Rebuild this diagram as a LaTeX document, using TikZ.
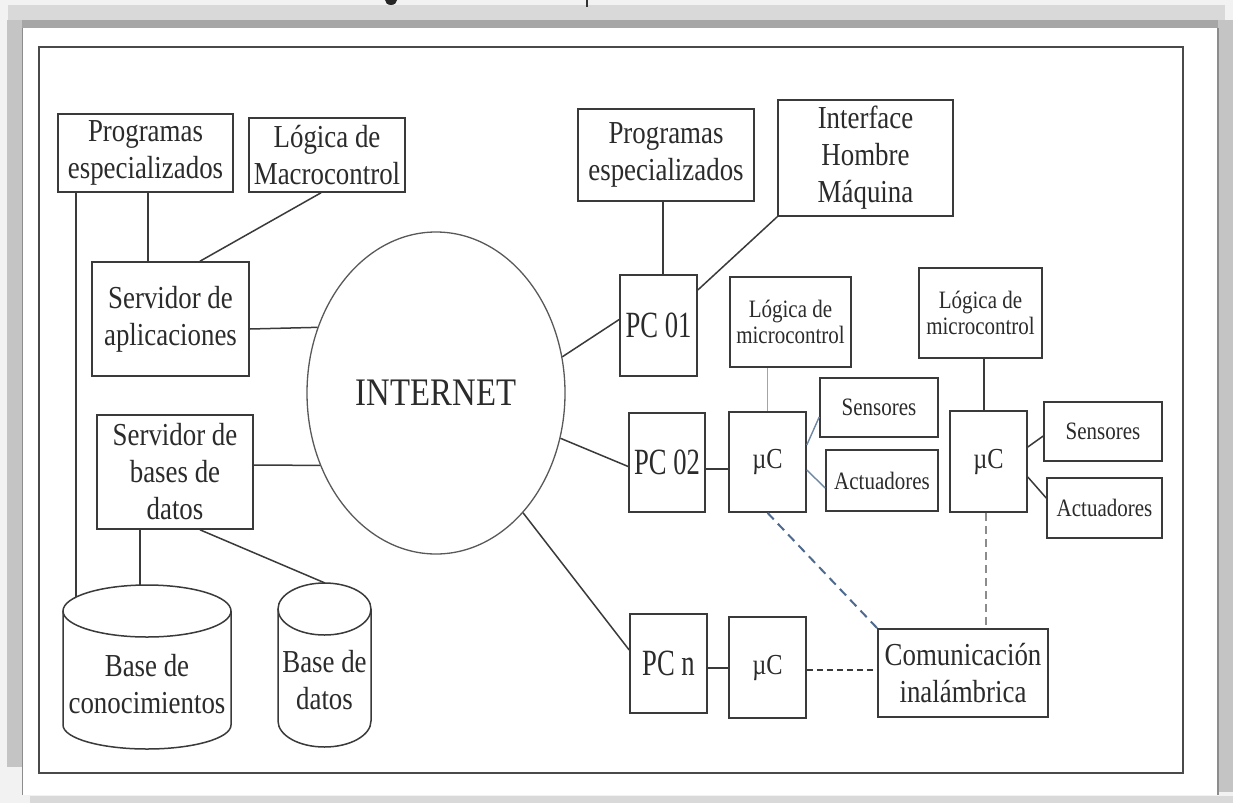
\documentclass[tikz,border=0pt]{standalone}
\usepackage{fontspec}
\setmainfont{Liberation Serif}[FakeStretch=0.84]
\newfontfamily\pcfont{Liberation Serif}[FakeStretch=0.72]
\usetikzlibrary{shapes.geometric,calc}

\definecolor{ink}{HTML}{2B2B2B}
\definecolor{edge}{HTML}{3A3A3A}
\definecolor{framec}{HTML}{4A4A4A}
\definecolor{bluish}{HTML}{6F87A3}
\definecolor{bluishlight}{HTML}{93A7BD}
\definecolor{bluedash}{HTML}{4F6A8F}
\definecolor{pagebg}{HTML}{F2F2F2}
\definecolor{bandlight}{HTML}{D9D9D9}
\definecolor{banddark}{HTML}{A6A6A6}
\definecolor{bandside}{HTML}{C4C4C4}

\begin{document}
\begin{tikzpicture}[x=1pt,y=-1pt,
  box/.style={draw=edge, line width=1.6pt, rectangle, inner sep=0pt,
              align=center, text=ink, font=\fontsize{32}{37}\selectfont},
  smallbox/.style={box, font=\fontsize{25}{26}\selectfont},
  pcbox/.style={box, font=\pcfont\fontsize{37}{40}\selectfont},
  ucbox/.style={box, font=\fontsize{29}{32}\selectfont},
  cyl/.style={draw=edge, line width=1.5pt},
  cyltext/.style={align=center, text=ink, inner sep=0pt,
                  font=\fontsize{32}{37}\selectfont},
  link/.style={draw=edge, line width=1.5pt},
  bluelink/.style={draw=bluish, line width=1.4pt},
  wireless/.style={draw=bluedash, line width=2pt, dash pattern=on 9pt off 6pt},
  wirelessgray/.style={draw=black!45, line width=2pt, dash pattern=on 8pt off 5pt},
  wirelessdark/.style={draw=edge, line width=1.5pt, dash pattern=on 6pt off 4pt}
]
\useasboundingbox (0,0) rectangle (1233,803);

% page background, bands and white panel
\fill[pagebg] (0,0) rectangle (1233,803);
\fill[bandlight] (8,5) rectangle (1225,20);
\fill[banddark] (16,20) rectangle (1218,28);
\fill[bandside] (7,20) rectangle (22,767);
\fill[bandside] (1218,20) rectangle (1233,792);
\fill[white] (22,28) rectangle (1218,795);
\draw[black!45, line width=1pt] (22,28) -- (22,795);
\draw[black!45, line width=1.5pt] (1218,28) -- (1218,795);
\fill[bandlight] (30,796) rectangle (1233,803);

% descenders of the heading above
\fill[black!85] (391,0) ellipse [x radius=6pt, y radius=5pt];
\draw[black!80, line width=1.2pt] (587,0) -- (587,7);

% inner frame
\draw[framec, line width=1.8pt] (39,47) rectangle (1183,773);

% ---------- left side: servers and databases ----------
\node[box, minimum width=175pt, minimum height=78pt] (progL) at (145.5,153)
  {Programas\\especializados};
\node[box, minimum width=156pt, minimum height=74pt] (macro) at (327,155)
  {Lógica de\\Macrocontrol};
\node[box, minimum width=157pt, minimum height=114pt] (srvApp) at (170.5,319)
  {Servidor de\\aplicaciones};
\node[box, minimum width=156pt, minimum height=114pt] (srvDB) at (175,472)
  {Servidor de\\bases de\\datos};

% knowledge base cylinder
\draw[cyl] (63,611) -- (63,725)
  arc[start angle=180, end angle=360, x radius=84pt, y radius=24pt] -- (231,611);
\draw[cyl] (147,611) ellipse [x radius=84pt, y radius=26pt];
\node[cyltext] (kb) at (147,684) {Base de\\conocimientos};
\coordinate (kbL) at (76,597);
\coordinate (kbT) at (140,585);

% database cylinder
\draw[cyl] (278,609) -- (278,721)
  arc[start angle=180, end angle=360, x radius=46.5pt, y radius=26pt] -- (371,609);
\draw[cyl] (324.5,609) ellipse [x radius=46.5pt, y radius=26pt];
\node[cyltext] (db) at (324.5,680) {Base de\\datos};
\coordinate (dbT) at (325,583);

% ---------- centre: the network ----------
\node[ellipse, draw=black!65, line width=1.3pt, minimum width=258pt,
      minimum height=322pt, inner sep=0pt, text=ink,
      font=\fontsize{39}{40}\selectfont] (inet) at (436,393) {INTERNET};

% ---------- right side: stations and microcontrollers ----------
\node[box, minimum width=176pt, minimum height=92pt] (progR) at (666,155)
  {Programas\\especializados};
\node[box, minimum width=175pt, minimum height=116pt] (ihm) at (865.5,158)
  {Interface\\Hombre\\Máquina};
\node[pcbox, minimum width=77pt, minimum height=101pt] (pc1) at (658.5,325.5) {PC 01};
\node[pcbox, minimum width=76pt, minimum height=99pt] (pc2) at (667,462.5) {PC 02};
\node[pcbox, minimum width=77pt, minimum height=99pt] (pcn) at (668.5,663.5) {PC n};

\node[smallbox, minimum width=121pt, minimum height=90pt] (logic1) at (790.5,322)
  {Lógica de\\microcontrol};
\node[ucbox, minimum width=77pt, minimum height=100pt] (uc1) at (767.5,462) {µC};
\node[smallbox, minimum width=118pt, minimum height=59pt] (sens1) at (879,407.5) {Sensores};
\node[smallbox, minimum width=112pt, minimum height=61pt] (act1) at (882,480.5) {Actuadores};

\node[smallbox, minimum width=123pt, minimum height=90pt] (logic2) at (980.5,313)
  {Lógica de\\microcontrol};
\node[ucbox, minimum width=77pt, minimum height=101pt] (uc2) at (988.5,461.5) {µC};
\node[smallbox, minimum width=118pt, minimum height=59pt] (sens2) at (1103,431.5) {Sensores};
\node[smallbox, minimum width=115pt, minimum height=60pt] (act2) at (1104.5,508) {Actuadores};

\node[ucbox, minimum width=77pt, minimum height=101pt] (uc3) at (767.5,667.5) {µC};
\node[box, minimum width=170pt, minimum height=88pt] (com) at (963,673)
  {Comunicación\\inalámbrica};

% ---------- connectors, left ----------
\draw[link] ([xshift=2.5pt]progL.south) -- ([xshift=2.5pt]progL.south |- srvApp.north);
\draw[link] ([xshift=-69.5pt]progL.south) -- (kbL);
\draw[link] ([xshift=-6pt]macro.south) -- ([xshift=29.5pt]srvApp.north);
\draw[link] ([yshift=-10pt]srvApp.east) -- (inet.151.6);
\draw[link] ([yshift=7pt]srvDB.east) -- (inet.212);
\draw[link] ([xshift=-35pt]srvDB.south) -- (kbT);
\draw[link] ([xshift=25pt]srvDB.south) -- (dbT);

% ---------- connectors, right ----------
\draw[link] (inet.16.7) -- ([yshift=6pt]pc1.west);
\draw[link] (inet.340.9) -- ([yshift=-4pt]pc2.west);
\draw[link] (inet.306.6) -- ([yshift=13.5pt]pcn.west);
\draw[link] ([xshift=-3pt]progR.south) -- ([xshift=-3pt]progR.south |- pc1.north);
\draw[link] (ihm.south west) -- ([yshift=35.5pt]pc1.east);

\draw[draw=bluishlight, line width=1.4pt] (logic1.south -| uc1.north) -- (uc1.north);
\draw[link] ([yshift=-6.5pt]pc2.east) -- ([yshift=-6.5pt]pc2.east -| uc1.west);
\draw[bluelink] ([yshift=17pt]uc1.east) -- ([yshift=-9.5pt]sens1.west);
\draw[bluelink] ([yshift=-8pt]uc1.east) -- ([yshift=-7.5pt]act1.west);

\draw[link] ([xshift=3.5pt]logic2.south) -- ([xshift=3.5pt]logic2.south |- uc2.north);
\draw[link] ([yshift=14.5pt]uc2.east) -- ([yshift=-4.5pt]sens2.west);
\draw[link] ([yshift=-15.5pt]uc2.east) -- ([yshift=10pt]act2.west);

\draw[link] ([yshift=-4.5pt]pcn.east) -- ([yshift=-4.5pt]pcn.east -| uc3.west);

% wireless links
\draw[wireless] (uc1.south) -- (com.north west);
\draw[wirelessgray] ([xshift=-2.5pt]uc2.south) -- ([xshift=-2.5pt]uc2.south |- com.north);
\draw[wirelessdark] ([yshift=-2.5pt]uc3.east) -- ([yshift=-2.5pt]uc3.east -| com.west);
\end{tikzpicture}
\end{document}
